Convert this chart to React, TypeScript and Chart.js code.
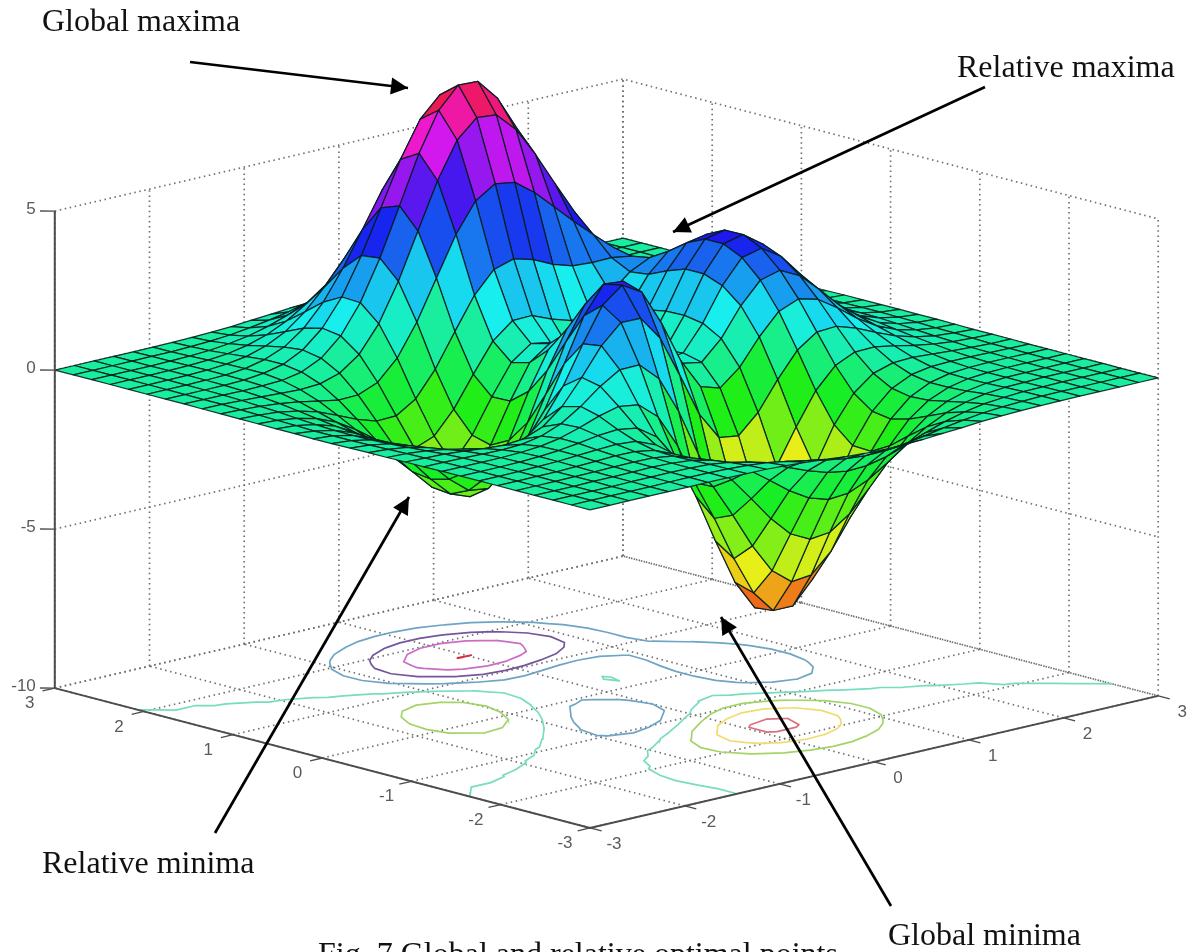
import React, { useEffect, useRef } from "react";
import { Chart, registerables } from "chart.js";

Chart.register(...registerables);

const z00 = [0.002,0.002,0.002,0.002,0.002,0.002,0.01,0.002,-0.002,-0.01,-0.04,-0.08,-0.13,-0.19,-0.23,-0.25,-0.25,-0.22,-0.17,-0.13,-0.08,-0.05,-0.03,-0.01,-0.01,-0.002,-0.002,-0.002,-0.002,-0.002];
const z01 = [0.002,0.002,0.002,0.002,0.002,0.01,0.01,0.01,-0.01,-0.04,-0.10,-0.20,-0.32,-0.44,-0.54,-0.59,-0.58,-0.51,-0.41,-0.29,-0.19,-0.11,-0.06,-0.03,-0.01,-0.002,-0.002,-0.002,-0.002,-0.002];
const z02 = [0.002,0.002,0.002,0.002,0.01,0.01,0.02,0.01,-0.02,-0.10,-0.23,-0.43,-0.68,-0.93,-1.13,-1.23,-1.20,-1.06,-0.84,-0.60,-0.39,-0.23,-0.12,-0.06,-0.02,-0.01,-0.002,-0.002,-0.002,-0.002];
const z03 = [0.002,0.002,0.002,0.01,0.01,0.02,0.03,0.01,-0.04,-0.18,-0.42,-0.79,-1.24,-1.71,-2.08,-2.27,-2.22,-1.95,-1.55,-1.10,-0.71,-0.41,-0.22,-0.10,-0.04,-0.02,-0.002,-0.002,-0.002,0.002];
const z04 = [0.002,0.002,0.002,0.01,0.02,0.03,0.04,0.03,-0.06,-0.27,-0.65,-1.23,-1.97,-2.74,-3.36,-3.67,-3.60,-3.17,-2.51,-1.79,-1.15,-0.66,-0.34,-0.16,-0.06,-0.02,-0.01,-0.002,0.002,0.002];
const z05 = [0.002,0.002,0.01,0.01,0.03,0.05,0.08,0.07,-0.03,-0.29,-0.80,-1.60,-2.64,-3.75,-4.67,-5.16,-5.09,-4.50,-3.56,-2.53,-1.61,-0.91,-0.46,-0.20,-0.07,-0.02,-0.002,0.002,0.002,0.002];
const z06 = [0.002,0.002,0.01,0.02,0.04,0.08,0.12,0.15,0.10,-0.15,-0.70,-1.63,-2.89,-4.30,-5.52,-6.22,-6.22,-5.53,-4.38,-3.09,-1.93,-1.06,-0.50,-0.20,-0.06,-0.01,0.01,0.01,0.002,0.002];
const z07 = [-0.002,0.002,0.002,0.01,0.04,0.09,0.17,0.27,0.32,0.22,-0.20,-1.05,-2.35,-3.90,-5.34,-6.28,-6.43,-5.78,-4.57,-3.16,-1.90,-0.97,-0.39,-0.10,0.01,0.03,0.03,0.02,0.01,0.002];
const z08 = [-0.002,-0.002,-0.002,-0.002,0.02,0.07,0.18,0.37,0.59,0.75,0.66,0.14,-0.91,-2.38,-3.92,-5.06,-5.45,-5.00,-3.92,-2.60,-1.40,-0.55,-0.07,0.12,0.15,0.11,0.07,0.03,0.01,0.01];
const z09 = [-0.01,-0.01,-0.02,-0.04,-0.05,-0.02,0.10,0.34,0.74,1.23,1.61,1.62,1.04,-0.13,-1.61,-2.91,-3.57,-3.41,-2.58,-1.48,-0.48,0.17,0.45,0.47,0.36,0.23,0.13,0.06,0.03,0.01];
const z10 = [-0.01,-0.03,-0.05,-0.10,-0.16,-0.20,-0.15,0.09,0.59,1.36,2.21,2.80,2.79,2.02,0.71,-0.66,-1.53,-1.62,-1.03,-0.14,0.64,1.07,1.11,0.91,0.63,0.38,0.20,0.09,0.04,0.01];
const z11 = [-0.02,-0.04,-0.10,-0.19,-0.33,-0.48,-0.57,-0.45,0.04,0.94,2.12,3.19,3.68,3.32,2.21,0.87,-0.08,-0.27,0.24,1.05,1.71,1.96,1.80,1.39,0.92,0.54,0.28,0.13,0.05,0.02];
const z12 = [-0.02,-0.06,-0.14,-0.29,-0.52,-0.82,-1.10,-1.18,-0.84,0.04,1.35,2.71,3.56,3.51,2.62,1.39,0.50,0.39,0.99,1.88,2.54,2.71,2.40,1.82,1.20,0.70,0.36,0.17,0.07,0.03];
const z13 = [-0.03,-0.08,-0.18,-0.38,-0.70,-1.15,-1.62,-1.93,-1.81,-1.07,0.24,1.72,2.78,2.96,2.26,1.19,0.46,0.53,1.32,2.36,3.10,3.25,2.85,2.14,1.41,0.82,0.42,0.20,0.08,0.03];
const z14 = [-0.04,-0.09,-0.21,-0.44,-0.83,-1.38,-2.01,-2.51,-2.59,-2.02,-0.81,0.68,1.84,2.18,1.66,0.78,0.23,0.47,1.42,2.58,3.38,3.53,3.09,2.32,1.52,0.88,0.46,0.21,0.09,0.03];
const z15 = [-0.04,-0.09,-0.22,-0.46,-0.87,-1.46,-2.16,-2.77,-3.00,-2.59,-1.52,-0.12,1.04,1.47,1.11,0.42,0.04,0.39,1.40,2.58,3.38,3.52,3.07,2.31,1.51,0.88,0.45,0.21,0.09,0.03];
const z16 = [-0.03,-0.09,-0.21,-0.43,-0.82,-1.39,-2.08,-2.71,-3.00,-2.71,-1.82,-0.58,0.49,0.94,0.72,0.19,-0.06,0.33,1.29,2.37,3.11,3.23,2.82,2.11,1.38,0.80,0.41,0.19,0.08,0.03];
const z17 = [-0.03,-0.07,-0.18,-0.37,-0.71,-1.20,-1.79,-2.35,-2.62,-2.41,-1.66,-0.60,0.34,0.79,0.68,0.30,0.12,0.45,1.23,2.11,2.69,2.76,2.39,1.79,1.17,0.68,0.35,0.16,0.07,0.03];
const z18 = [-0.02,-0.06,-0.14,-0.29,-0.54,-0.92,-1.37,-1.77,-1.94,-1.70,-1.00,-0.04,0.86,1.36,1.38,1.12,0.93,1.07,1.52,2.04,2.34,2.29,1.94,1.42,0.92,0.53,0.27,0.13,0.05,0.02];
const z19 = [-0.02,-0.04,-0.09,-0.20,-0.37,-0.62,-0.89,-1.09,-1.07,-0.68,0.11,1.15,2.15,2.82,3.01,2.84,2.55,2.36,2.32,2.33,2.24,1.97,1.56,1.11,0.70,0.40,0.20,0.09,0.04,0.01];
const z20 = [-0.01,-0.03,-0.06,-0.12,-0.21,-0.33,-0.44,-0.42,-0.17,0.45,1.44,2.68,3.91,4.82,5.22,5.12,4.66,4.07,3.47,2.91,2.37,1.83,1.32,0.87,0.52,0.29,0.14,0.06,0.03,0.01];
const z21 = [-0.01,-0.01,-0.03,-0.06,-0.09,-0.12,-0.08,0.11,0.56,1.38,2.57,4.01,5.45,6.58,7.15,7.09,6.49,5.56,4.49,3.46,2.53,1.76,1.15,0.71,0.40,0.21,0.10,0.04,0.02,0.01];
const z22 = [-0.002,-0.01,-0.01,-0.02,-0.01,0.02,0.14,0.43,0.99,1.89,3.15,4.65,6.16,7.37,8.02,7.99,7.32,6.22,4.92,3.64,2.53,1.65,1.01,0.58,0.31,0.15,0.07,0.03,0.01,0.002];
const z23 = [-0.002,-0.002,-0.002,0.002,0.02,0.09,0.23,0.54,1.08,1.92,3.08,4.44,5.82,6.94,7.56,7.54,6.92,5.85,4.58,3.33,2.25,1.41,0.83,0.45,0.23,0.11,0.05,0.02,0.01,0.002];
const z24 = [-0.002,0.002,0.002,0.01,0.03,0.09,0.23,0.48,0.93,1.61,2.53,3.61,4.70,5.60,6.10,6.09,5.59,4.72,3.68,2.64,1.76,1.08,0.62,0.33,0.16,0.07,0.03,0.01,0.002,0.002];
const z25 = [0.002,0.002,0.002,0.01,0.03,0.08,0.17,0.36,0.67,1.15,1.79,2.54,3.30,3.92,4.27,4.27,3.92,3.31,2.57,1.84,1.21,0.74,0.42,0.22,0.10,0.05,0.02,0.01,0.002,0.002];
const z26 = [0.002,0.002,0.002,0.01,0.02,0.05,0.11,0.23,0.42,0.71,1.10,1.56,2.03,2.41,2.62,2.62,2.41,2.03,1.57,1.12,0.74,0.45,0.25,0.13,0.06,0.03,0.01,0.002,0.002,0.002];
const z27 = [0.002,0.002,0.002,0.002,0.01,0.03,0.06,0.13,0.23,0.39,0.60,0.85,1.10,1.31,1.43,1.42,1.31,1.10,0.85,0.61,0.40,0.24,0.13,0.07,0.03,0.01,0.01,0.002,0.002,0.002];
const z28 = [0.002,0.002,0.002,0.002,0.01,0.01,0.03,0.06,0.11,0.19,0.29,0.41,0.53,0.63,0.69,0.69,0.63,0.53,0.41,0.29,0.19,0.12,0.06,0.03,0.02,0.01,0.002,0.002,0.002,0.002];
const z29 = [0.002,0.002,0.002,0.002,0.002,0.01,0.01,0.03,0.05,0.08,0.13,0.18,0.23,0.27,0.30,0.30,0.27,0.23,0.18,0.13,0.08,0.05,0.03,0.01,0.01,0.002,0.002,0.002,0.002,0.002];
const surfaceRows = [z00,z01,z02,z03,z04,z05,z06,z07,z08,z09,z10,z11,z12,z13,z14,z15,z16,z17,z18,z19,z20,z21,z22,z23,z24,z25,z26,z27,z28,z29];

const xTicks = [-3,-2,-1,0,1,2,3];
const yTicks = [-3,-2,-1,0,1,2,3];
const zTicks = [-10,-5,0,5];
const contourLevels = [-6,-4,-2,0,2,4,6,8];
const contourColors = ["#d8707e","#f0dc6e","#a4d468","#78dcc0","#6ea4c4","#74569c","#cc6cc4","#d83040"];

const annotationTexts = ["Global maxima","Relative maxima","Relative minima","Global minima","Fig. 7 Global and relative optimal points"];
const annotationX = [42,957,42,888,318];
const annotationY = [31,77,873,945,964];
const arrowStartX = [190,985,215,891];
const arrowStartY = [62,87,833,906];
const arrowTipX = [408,673,409,721];
const arrowTipY = [88,232,497,617];

const SX0 = 606.5, SX_X = 94.7, SX_Y = -89.2;
const SY0 = 374, SY_X = -22, SY_Y = -23.3, SY_Z = -31.8;
const project = (x: number, y: number, z: number) => ({
  x: SX0 + SX_X * x + SX_Y * y,
  y: SY0 + SY_X * x + SY_Y * y + SY_Z * z,
});

const N = surfaceRows.length;
const gridX = (i: number) => -3 + (6 * i) / (N - 1);
const zMin = Math.min(...surfaceRows.map((r) => Math.min(...r)));
const zMax = Math.max(...surfaceRows.map((r) => Math.max(...r)));

function hsvColor(z: number) {
  const idx = Math.min(63, Math.floor(((z - zMin) / (zMax - zMin)) * 64));
  const h = (idx / 64) * 6;
  const k = Math.floor(h);
  const f = h - k;
  const q = 1 - f;
  const [r, g, b] = [[1,f,0],[q,1,0],[0,1,f],[0,q,1],[f,0,1],[1,0,q]][k % 6];
  const lo = 24, hi = 238;
  const ch = (c: number) => Math.round(lo + (hi - lo) * c);
  return `rgb(${ch(r)},${ch(g)},${ch(b)})`;
}

const line = (extra: any) => ({
  type: "scatter",
  showLine: true,
  pointRadius: 0,
  pointHoverRadius: 0,
  tension: 0,
  spanGaps: false,
  fill: false,
  clip: false,
  ...extra,
});

function contourData(level: number) {
  const pts: any[] = [];
  for (let j = 0; j < N - 1; j++) {
    for (let i = 0; i < N - 1; i++) {
      const a = surfaceRows[j][i], b = surfaceRows[j][i + 1], c = surfaceRows[j + 1][i + 1], d = surfaceRows[j + 1][i];
      const cross: [number, number][] = [];
      const edge = (p: number, q: number, x1: number, y1: number, x2: number, y2: number) => {
        if ((p < level) !== (q < level)) {
          const t = (level - p) / (q - p);
          cross.push([x1 + (x2 - x1) * t, y1 + (y2 - y1) * t]);
        }
      };
      edge(a, b, i, j, i + 1, j);
      edge(b, c, i + 1, j, i + 1, j + 1);
      edge(c, d, i + 1, j + 1, i, j + 1);
      edge(d, a, i, j + 1, i, j);
      for (let k = 0; k + 1 < cross.length; k += 2) {
        pts.push(project(gridX(cross[k][0]), gridX(cross[k][1]), -10));
        pts.push(project(gridX(cross[k + 1][0]), gridX(cross[k + 1][1]), -10));
        pts.push({ x: NaN, y: NaN });
      }
    }
  }
  return pts;
}

function buildDatasets() {
  const ds: any[] = [];
  const dotted = { borderColor: "#707070", borderWidth: 1.7, borderDash: [1.5, 3.6], order: 5000 };
  for (const t of xTicks) {
    ds.push(line({ ...dotted, data: [project(t, -3, -10), project(t, 3, -10)] }));
    ds.push(line({ ...dotted, data: [project(t, 3, -10), project(t, 3, 5)] }));
  }
  for (const t of yTicks) {
    ds.push(line({ ...dotted, data: [project(-3, t, -10), project(3, t, -10)] }));
    ds.push(line({ ...dotted, data: [project(3, t, -10), project(3, t, 5)] }));
  }
  for (const t of zTicks) {
    ds.push(line({ ...dotted, data: [project(-3, 3, t), project(3, 3, t), project(3, -3, t)] }));
  }
  contourLevels.forEach((lv, k) => {
    ds.push(line({ data: contourData(lv), borderColor: contourColors[k], borderWidth: 1.7, borderCapStyle: "round", order: 4000 }));
  });
  for (let j = 0; j < N - 1; j++) {
    for (let i = 0; i < N - 1; i++) {
      const xa = gridX(i), xb = gridX(i + 1), ya = gridX(j), yb = gridX(j + 1);
      ds.push(line({
        data: [
          project(xa, ya, surfaceRows[j][i]),
          project(xb, ya, surfaceRows[j][i + 1]),
          project(xb, yb, surfaceRows[j + 1][i + 1]),
          project(xa, yb, surfaceRows[j + 1][i]),
          project(xa, ya, surfaceRows[j][i]),
        ],
        cellColor: hsvColor(surfaceRows[j][i]),
        borderColor: "rgba(4,28,28,0.88)",
        borderWidth: 1.25,
        borderJoinStyle: "round",
        order: 100 + i + j,
      }));
    }
  }
  const axis = { borderColor: "#4c4c4c", borderWidth: 2, order: 10 };
  ds.push(line({ ...axis, data: [project(-3, 3, 5), project(-3, 3, -10)] }));
  ds.push(line({ ...axis, data: [project(-3, 3, -10), project(-3, -3, -10), project(3, -3, -10)] }));
  const tick = { borderColor: "#4c4c4c", borderWidth: 1.3, order: 10 };
  for (const t of yTicks) ds.push(line({ ...tick, data: [project(-3, t, -10), project(-3.13, t, -10)] }));
  for (const t of xTicks) ds.push(line({ ...tick, data: [project(t, -3, -10), project(t, -3.13, -10)] }));
  for (const t of zTicks) ds.push(line({ ...tick, data: [project(-3, 3, t), project(-3.08, 3.08, t)] }));
  arrowStartX.forEach((sx, k) => {
    ds.push(line({
      data: [{ x: sx, y: arrowStartY[k] }, { x: arrowTipX[k], y: arrowTipY[k] }],
      borderColor: "#000",
      borderWidth: 2.7,
      arrow: true,
      order: 1,
    }));
  });
  return ds;
}

const surfacePlugin = {
  id: "surfacePlugin",
  beforeDatasetDraw(chart: any, args: any) {
    const ds = chart.data.datasets[args.index];
    if (!ds.cellColor) return;
    const p = args.meta.data;
    const ctx = chart.ctx;
    ctx.save();
    ctx.beginPath();
    ctx.moveTo(p[0].x, p[0].y);
    for (let k = 1; k < p.length; k++) ctx.lineTo(p[k].x, p[k].y);
    ctx.closePath();
    ctx.fillStyle = ds.cellColor;
    ctx.fill();
    ctx.restore();
  },
  afterDatasetDraw(chart: any, args: any) {
    const ds = chart.data.datasets[args.index];
    if (!ds.arrow) return;
    const [a, b] = args.meta.data;
    const ang = Math.atan2(b.y - a.y, b.x - a.x);
    const len = 17, half = 8.5;
    const ctx = chart.ctx;
    ctx.save();
    ctx.translate(b.x, b.y);
    ctx.rotate(ang);
    ctx.beginPath();
    ctx.moveTo(0, 0);
    ctx.lineTo(-len, half);
    ctx.lineTo(-len, -half);
    ctx.closePath();
    ctx.fillStyle = "#000";
    ctx.fill();
    ctx.restore();
  },
  afterDraw(chart: any) {
    const ctx = chart.ctx;
    const sx = chart.scales.x, sy = chart.scales.y;
    ctx.save();
    ctx.fillStyle = "#5a5a5a";
    ctx.font = "17px 'Liberation Sans'";
    ctx.textBaseline = "middle";
    ctx.textAlign = "center";
    for (const t of yTicks) {
      const p = project(-3, t, -10);
      ctx.fillText(String(t), sx.getPixelForValue(p.x) - 25, sy.getPixelForValue(p.y) + 15.5);
    }
    for (const t of xTicks) {
      const p = project(t, -3, -10);
      ctx.fillText(String(t), sx.getPixelForValue(p.x) + 24, sy.getPixelForValue(p.y) + 16);
    }
    ctx.textAlign = "right";
    for (const t of zTicks) {
      const p = project(-3, 3, t);
      ctx.fillText(String(t), sx.getPixelForValue(p.x) - 19, sy.getPixelForValue(p.y) - 2);
    }
    ctx.fillStyle = "#111";
    ctx.font = "32px 'Liberation Serif'";
    ctx.textAlign = "left";
    ctx.textBaseline = "alphabetic";
    annotationTexts.forEach((s, k) => {
      ctx.fillText(s, sx.getPixelForValue(annotationX[k]), sy.getPixelForValue(annotationY[k]));
    });
    ctx.restore();
  },
};

export default function App() {
  const ref = useRef<HTMLCanvasElement>(null);
  useEffect(() => {
    const chart = new Chart(ref.current as any, {
      type: "scatter",
      data: { datasets: buildDatasets() },
      plugins: [surfacePlugin],
      options: {
        animation: false,
        responsive: false,
        events: [],
        layout: { padding: 0 },
        plugins: { legend: { display: false }, tooltip: { enabled: false }, title: { display: false } },
        scales: {
          x: { type: "linear", min: 0, max: 1195, display: false },
          y: { type: "linear", min: 0, max: 952, reverse: true, display: false },
        },
      },
    } as any);
    return () => chart.destroy();
  }, []);
  return (
    <canvas
      ref={ref}
      width={1195}
      height={952}
      style={{ position: "fixed", left: 0, top: 0, width: 1195, height: 952, background: "#fff", filter: "blur(0.55px)" }}
    />
  );
}
